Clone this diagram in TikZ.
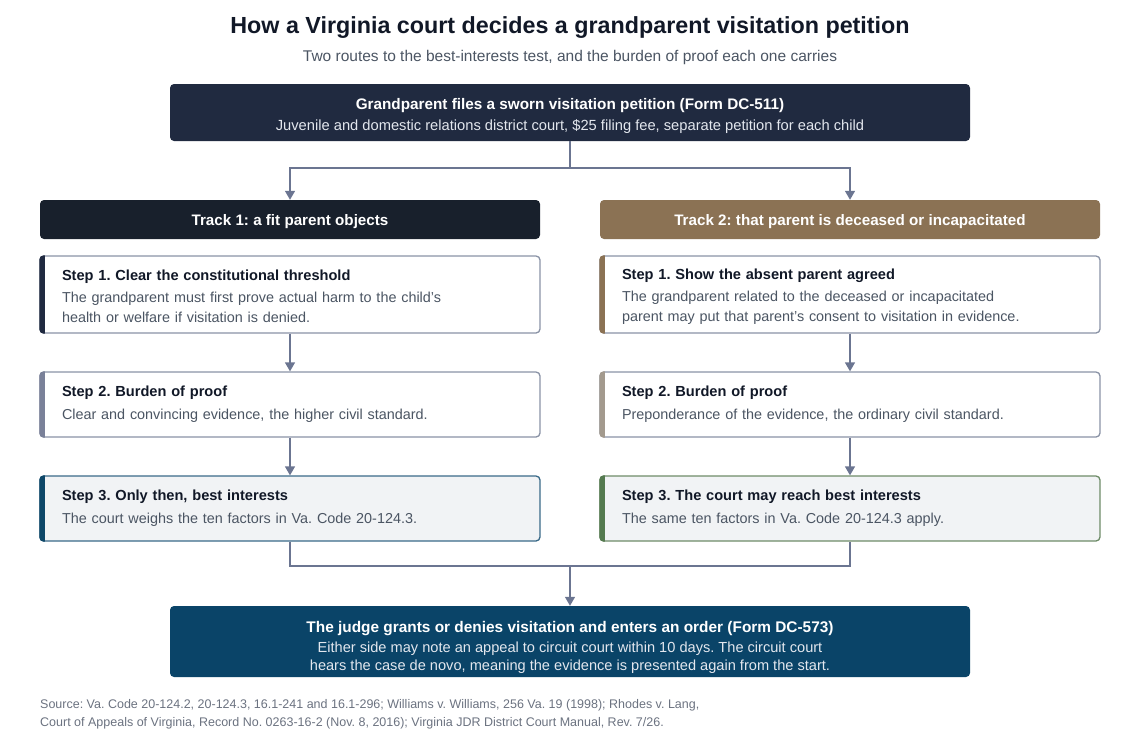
\documentclass[tikz,border=0pt]{standalone}
\usepackage{fontspec}
\setmainfont{Liberation Sans}
\usetikzlibrary{arrows.meta}
\frenchspacing

\definecolor{inkdark}{HTML}{111827}
\definecolor{inkgrey}{HTML}{4B5563}
\definecolor{inksrc}{HTML}{6B7280}
\definecolor{navy}{HTML}{202A40}
\definecolor{trackone}{HTML}{18202C}
\definecolor{tracktwo}{HTML}{8B7254}
\definecolor{rim}{HTML}{8A93A6}
\definecolor{wire}{HTML}{6B7591}
\definecolor{slatebar}{HTML}{7A8199}
\definecolor{taupebar}{HTML}{A39A8E}
\definecolor{mist}{HTML}{F1F3F5}
\definecolor{bluerim}{HTML}{3A6A88}
\definecolor{bluebar}{HTML}{0E4768}
\definecolor{greenrim}{HTML}{6E8C68}
\definecolor{greenbar}{HTML}{557A50}
\definecolor{verdict}{HTML}{0A4468}
\definecolor{paleink}{HTML}{E3E7EE}

% bold first line of a box, with a strut to push the text down
\newcommand\boxhead[2]{\rule{0pt}{#1}{\color{inkdark}\fontsize{14.6}{20}\selectfont\bfseries #2}}

\begin{document}
\begin{tikzpicture}[
		x=1pt, y=-1pt,
		>={Triangle[width=10pt,length=9pt]},
		darkbox/.style={fill=#1, rounded corners=4pt, text=white, align=center, minimum width=800pt, inner sep=0pt},
		trackhead/.style={fill=#1, rounded corners=4pt, text=white, minimum width=500pt, minimum height=39pt, inner sep=0pt, text depth=0pt, font=\fontsize{15.2}{18}\selectfont\bfseries},
		stepbox/.style={draw=#1, line width=1.3pt, rounded corners=4pt, fill=white, minimum width=500pt, text width=456pt, inner xsep=22pt, inner ysep=0pt, align=left, text=inkgrey, font=\fontsize{14.4}{20}\selectfont},
		link/.style={draw=wire, line width=1.4pt, ->},
		wireonly/.style={draw=wire, line width=1.4pt}
	]
		\useasboundingbox (0,0) rectangle (1140,742);

		% Heading
		\node[text=inkdark, font=\fontsize{23.3}{28}\selectfont\bfseries] (title) at (570,28) {How a Virginia court decides a grandparent visitation petition};
		\node[text=inkgrey, font=\fontsize{15.5}{18}\selectfont] (subtitle) at (570,57) {Two routes to the best-interests test, and the burden of proof each one carries};

		% Petition
		\node[darkbox=navy, minimum height=57pt, font=\fontsize{14.7}{21}\selectfont] (petition) at (570,112.5)
			{\rule{0pt}{17.5pt}{\fontsize{15.3}{21}\selectfont\bfseries Grandparent files a sworn visitation petition (Form DC-511)}\\
			{\color{paleink}Juvenile and domestic relations district court, \$25 filing fee, separate petition for each child}};

		% Tracks
		\node[trackhead=trackone] (t1) at (290,219.5) {Track 1: a fit parent objects};
		\node[trackhead=tracktwo] (t2) at (850,219.5) {Track 2: that parent is deceased or incapacitated};

		% Track 1 steps
		\node[stepbox=rim, minimum height=77pt] (l1) at (290,294.5)
			{\boxhead{15pt}{Step 1. Clear the constitutional threshold}\\[2pt]
			The grandparent must first prove actual harm to the child's\\ health or welfare if visitation is denied.};
		\node[stepbox=rim, minimum height=65pt] (l2) at (290,404.5)
			{\boxhead{0pt}{Step 2. Burden of proof}\\[3pt]
			Clear and convincing evidence, the higher civil standard.};
		\node[stepbox=bluerim, fill=mist, minimum height=65pt] (l3) at (290,508.5)
			{\boxhead{0pt}{Step 3. Only then, best interests}\\[3pt]
			The court weighs the ten factors in Va. Code 20-124.3.};

		% Track 2 steps
		\node[stepbox=rim, minimum height=77pt] (r1) at (850,294.5)
			{\boxhead{15pt}{Step 1. Show the absent parent agreed}\\[2pt]
			The grandparent related to the deceased or incapacitated\\ parent may put that parent's consent to visitation in evidence.};
		\node[stepbox=rim, minimum height=65pt] (r2) at (850,404.5)
			{\boxhead{0pt}{Step 2. Burden of proof}\\[3pt]
			Preponderance of the evidence, the ordinary civil standard.};
		\node[stepbox=greenrim, fill=mist, minimum height=65pt] (r3) at (850,508.5)
			{\boxhead{0pt}{Step 3. The court may reach best interests}\\[3pt]
			The same ten factors in Va. Code 20-124.3 apply.};

		% Accent bars
		\foreach \n/\c in {l1/navy, l2/slatebar, l3/bluebar, r1/tracktwo, r2/taupebar, r3/greenbar} {
			\begin{scope}
				\clip[rounded corners=4pt] (\n.south west) rectangle (\n.north east);
				\fill[\c] (\n.south west) rectangle ([xshift=6pt]\n.north west);
			\end{scope}
		}

		% Outcome
		\node[darkbox=verdict, minimum height=71pt, font=\fontsize{14.6}{18}\selectfont] (judge) at (570,641.5)
			{\rule{0pt}{23.5pt}{\fontsize{15.4}{21}\selectfont\bfseries The judge grants or denies visitation and enters an order (Form DC-573)}\\[2pt]
			{\color{paleink}Either side may note an appeal to circuit court within 10 days. The circuit court}\\
			{\color{paleink}hears the case de novo, meaning the evidence is presented again from the start.}};

		% Connectors
		\coordinate (split) at (570,168);
		\coordinate (merge) at (570,566);
		\draw[wireonly] (petition) -- (split);
		\draw[link] (split) -| (t1);
		\draw[link] (split) -| (t2);
		\draw[link] (l1) -- (l2);
		\draw[link] (l2) -- (l3);
		\draw[link] (r1) -- (r2);
		\draw[link] (r2) -- (r3);
		\draw[wireonly] (l3) |- (merge) -| (r3);
		\draw[link] (merge) -- (judge);

		% Source
		\node[anchor=north west, text=inksrc, align=left, inner sep=0pt, font=\fontsize{12.5}{18}\selectfont] (source) at (40,699)
			{Source: Va. Code 20-124.2, 20-124.3, 16.1-241 and 16.1-296; Williams v. Williams, 256 Va. 19 (1998); Rhodes v. Lang,\\
			Court of Appeals of Virginia, Record No. 0263-16-2 (Nov. 8, 2016); Virginia JDR District Court Manual, Rev. 7/26.};
	\end{tikzpicture}
\end{document}
